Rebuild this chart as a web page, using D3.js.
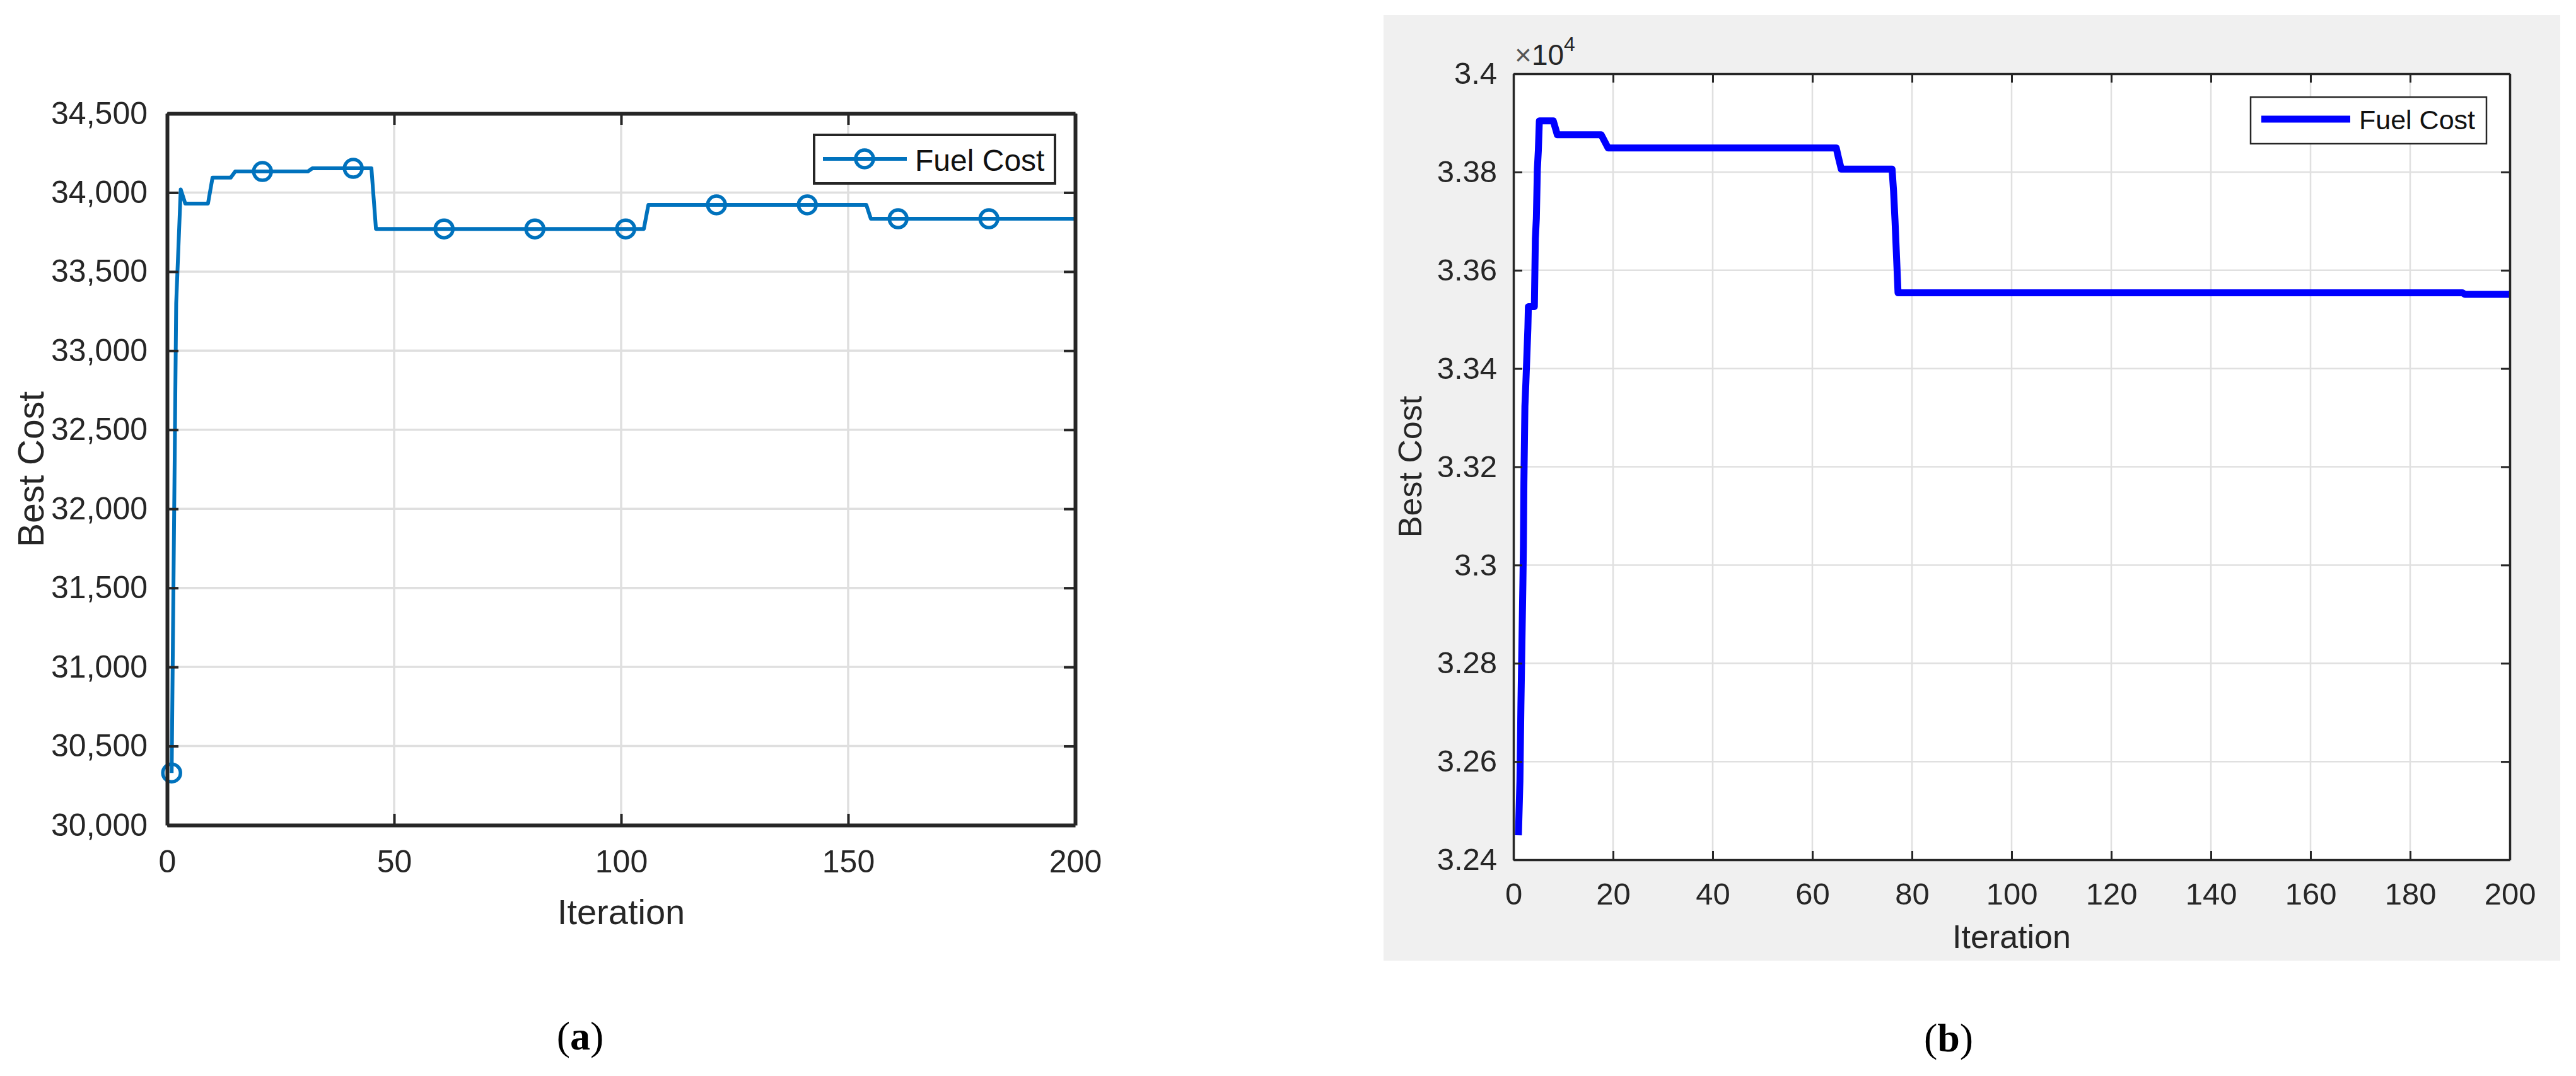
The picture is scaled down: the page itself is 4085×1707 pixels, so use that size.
<!DOCTYPE html>
<html>
<head>
<meta charset="utf-8">
<script src="https://cdn.jsdelivr.net/npm/d3@7"></script>
<style>
  html, body { margin: 0; padding: 0; background: #ffffff; }
  svg { display: block; }
  text { font-family: "Liberation Sans", Arial, Helvetica, sans-serif; }
</style>
</head>
<body>
<svg id="fig" width="4085" height="1707"></svg>
<script>
// ---------------- DATA ----------------
// (a) convergence curve: breakpoints (iteration, best cost)
const iterA = [1, 2, 3, 4, 9, 10, 14, 15, 31, 32, 45, 46, 105, 106, 154, 155, 200];
const costA = [30330, 33300, 34020, 33930, 33930, 34094, 34094, 34133, 34133, 34153, 34153, 33770, 33770, 33922, 33922, 33834, 33834];
// marker iterations for (a)
const markIterA = [1, 21, 41, 61, 81, 101, 121, 141, 161, 181];
// axis ticks (a)
const xTicksA = [0, 50, 100, 150, 200];
const yTicksA = [30000, 30500, 31000, 31500, 32000, 32500, 33000, 33500, 34000, 34500];

// (b) convergence curve: breakpoints (iteration, best cost)
const iterB = [1, 1.3, 1.5, 1.9, 2.0, 2.1, 2.3, 2.5, 2.9, 3.0, 4.2, 4.4, 4.6, 4.8, 5.0, 5.2, 8.0, 8.8, 17.6, 19, 64.8, 65.2, 65.8, 76, 76.3, 76.6, 77.2, 190.5, 191, 200];
const costB = [32450, 32560, 32714, 32965, 33038, 33168, 33323, 33372, 33483, 33526, 33526, 33664, 33706, 33806, 33844, 33904, 33904, 33876, 33876, 33849, 33849, 33831, 33806, 33806, 33762, 33700, 33554, 33554, 33551, 33551];
// axis ticks (b)
const xTicksB = [0, 20, 40, 60, 80, 100, 120, 140, 160, 180, 200];
const yTicksB = [32400, 32600, 32800, 33000, 33200, 33400, 33600, 33800, 34000];

const seriesName = "Fuel Cost";
const xLabel = "Iteration";
const yLabel = "Best Cost";

// ---------------- DRAW ----------------
const svg = d3.select("#fig");
const FONT = '"Liberation Sans", Arial, Helvetica, sans-serif';

function interp(iters, vals, it) {
  for (let i = 0; i < iters.length - 1; i++) {
    if (it >= iters[i] && it <= iters[i + 1]) {
      const t = (it - iters[i]) / (iters[i + 1] - iters[i]);
      return vals[i] + t * (vals[i + 1] - vals[i]);
    }
  }
  return vals[vals.length - 1];
}

// ===== Panel (a) =====
{
  const x = d3.scaleLinear().domain([0, 200]).range([265, 1705]);
  const y = d3.scaleLinear().domain([30000, 34500]).range([1309, 180]);
  const g = svg.append("g");
  const axisColor = "#262626";
  const gridColor = "#dfdfdf";

  // grid
  g.append("g").selectAll("line").data(yTicksA).join("line")
    .attr("x1", x(0)).attr("x2", x(200))
    .attr("y1", d => y(d)).attr("y2", d => y(d))
    .attr("stroke", gridColor).attr("stroke-width", 3.5);
  g.append("g").selectAll("line").data(xTicksA).join("line")
    .attr("y1", y(30000)).attr("y2", y(34500))
    .attr("x1", d => x(d)).attr("x2", d => x(d))
    .attr("stroke", gridColor).attr("stroke-width", 3.5);

  // line
  const pts = iterA.map((d, i) => [d, costA[i]]);
  g.append("path").datum(pts)
    .attr("fill", "none").attr("stroke", "#0072BD").attr("stroke-width", 6)
    .attr("stroke-linejoin", "round")
    .attr("d", d3.line().x(d => x(d[0])).y(d => y(d[1])));

  // markers
  g.append("g").selectAll("circle").data(markIterA).join("circle")
    .attr("cx", d => x(d)).attr("cy", d => y(interp(iterA, costA, d)))
    .attr("r", 14).attr("fill", "none").attr("stroke", "#0072BD").attr("stroke-width", 5.5);

  // axes
  const tk = 18;
  const ax = g.append("g").attr("transform", `translate(0,${y(30000)})`)
    .call(d3.axisBottom(x).tickValues(xTicksA).tickSizeInner(-tk).tickSizeOuter(0).tickPadding(39));
  const ay = g.append("g").attr("transform", `translate(${x(0)},0)`)
    .call(d3.axisLeft(y).tickValues(yTicksA).tickFormat(d3.format(",")).tickSizeInner(-tk).tickSizeOuter(0).tickPadding(31));
  const at = g.append("g").attr("transform", `translate(0,${y(34500)})`)
    .call(d3.axisTop(x).tickValues(xTicksA).tickFormat("").tickSizeInner(-tk).tickSizeOuter(0));
  const ar = g.append("g").attr("transform", `translate(${x(200)},0)`)
    .call(d3.axisRight(y).tickValues(yTicksA).tickFormat("").tickSizeInner(-tk).tickSizeOuter(0));
  [ax, ay, at, ar].forEach(a => {
    a.select(".domain").attr("stroke", axisColor).attr("stroke-width", 6);
    a.selectAll(".tick line").attr("stroke", axisColor).attr("stroke-width", 4);
    a.selectAll(".tick text").attr("fill", "#262626").style("font-size", "50px").style("font-family", FONT);
  });

  // axis labels
  g.append("text").attr("x", (x(0) + x(200)) / 2).attr("y", 1466)
    .attr("text-anchor", "middle").attr("fill", "#262626")
    .style("font-size", "56px").text(xLabel);
  g.append("text").attr("transform", `translate(69,${(y(30000) + y(34500)) / 2}) rotate(-90)`)
    .attr("text-anchor", "middle").attr("fill", "#262626")
    .style("font-size", "57px").text(yLabel);

  // legend
  const lg = g.append("g");
  lg.append("rect").attr("x", 1291).attr("y", 214).attr("width", 382).attr("height", 77)
    .attr("fill", "#ffffff").attr("stroke", "#262626").attr("stroke-width", 4);
  lg.append("line").attr("x1", 1305).attr("x2", 1438).attr("y1", 252).attr("y2", 252)
    .attr("stroke", "#0072BD").attr("stroke-width", 6);
  lg.append("circle").attr("cx", 1371).attr("cy", 252).attr("r", 14)
    .attr("fill", "none").attr("stroke", "#0072BD").attr("stroke-width", 5.5);
  lg.append("text").attr("x", 1451).attr("y", 271).attr("fill", "#111")
    .style("font-size", "48px").text(seriesName);

  // caption (a)
  const cap = g.append("text").attr("x", 920).attr("y", 1665).attr("text-anchor", "middle")
    .style("font-family", '"Liberation Serif", "Times New Roman", serif').style("font-size", "64px").attr("fill", "#000");
  cap.append("tspan").text("(");
  cap.append("tspan").attr("font-weight", "bold").text("a");
  cap.append("tspan").text(")");
}

// ===== Panel (b) =====
{
  const x = d3.scaleLinear().domain([0, 200]).range([2400, 3980]);
  const y = d3.scaleLinear().domain([32400, 34000]).range([1364, 117]);
  const g = svg.append("g");
  const axisColor = "#262626";
  const gridColor = "#e0e0e0";

  // figure background
  g.append("rect").attr("x", 2194).attr("y", 24).attr("width", 1866).attr("height", 1500).attr("fill", "#f0f0f0");
  // axes background
  g.append("rect").attr("x", x(0)).attr("y", y(34000)).attr("width", x(200) - x(0)).attr("height", y(32400) - y(34000)).attr("fill", "#ffffff");

  // grid
  g.append("g").selectAll("line").data(yTicksB).join("line")
    .attr("x1", x(0)).attr("x2", x(200))
    .attr("y1", d => y(d)).attr("y2", d => y(d))
    .attr("stroke", gridColor).attr("stroke-width", 2.5);
  g.append("g").selectAll("line").data(xTicksB).join("line")
    .attr("y1", y(32400)).attr("y2", y(34000))
    .attr("x1", d => x(d)).attr("x2", d => x(d))
    .attr("stroke", gridColor).attr("stroke-width", 2.5);

  // line
  const pts = iterB.map((d, i) => [d, costB[i]]);
  g.append("path").datum(pts)
    .attr("fill", "none").attr("stroke", "#0000FF").attr("stroke-width", 11)
    .attr("stroke-linejoin", "round")
    .attr("d", d3.line().x(d => x(d[0])).y(d => y(d[1])));

  // axes
  const tk = 14;
  const fmt = v => String(+(v / 10000).toFixed(2));
  const ax = g.append("g").attr("transform", `translate(0,${y(32400)})`)
    .call(d3.axisBottom(x).tickValues(xTicksB).tickSizeInner(-tk).tickSizeOuter(0).tickPadding(36));
  const ay = g.append("g").attr("transform", `translate(${x(0)},0)`)
    .call(d3.axisLeft(y).tickValues(yTicksB).tickFormat(fmt).tickSizeInner(-tk).tickSizeOuter(0).tickPadding(26));
  const at = g.append("g").attr("transform", `translate(0,${y(34000)})`)
    .call(d3.axisTop(x).tickValues(xTicksB).tickFormat("").tickSizeInner(-tk).tickSizeOuter(0));
  const ar = g.append("g").attr("transform", `translate(${x(200)},0)`)
    .call(d3.axisRight(y).tickValues(yTicksB).tickFormat("").tickSizeInner(-tk).tickSizeOuter(0));
  [ax, ay, at, ar].forEach(a => {
    a.select(".domain").attr("stroke", axisColor).attr("stroke-width", 3.5);
    a.selectAll(".tick line").attr("stroke", axisColor).attr("stroke-width", 3);
    a.selectAll(".tick text").attr("fill", "#262626").style("font-size", "49px").style("font-family", FONT);
  });

  // exponent label
  const ex = g.append("text").attr("x", x(0) + 2).attr("y", 103).attr("fill", "#262626").style("font-size", "46px");
  ex.append("tspan").attr("fill", "#555").text("\u00d7");
  ex.append("tspan").text("10");
  ex.append("tspan").attr("dy", -22).style("font-size", "32px").text("4");

  // axis labels
  g.append("text").attr("x", (x(0) + x(200)) / 2).attr("y", 1504)
    .attr("text-anchor", "middle").attr("fill", "#262626")
    .style("font-size", "52px").text(xLabel);
  g.append("text").attr("transform", `translate(2254,${(y(32400) + y(34000)) / 2}) rotate(-90)`)
    .attr("text-anchor", "middle").attr("fill", "#262626")
    .style("font-size", "52px").text(yLabel);

  // legend
  const lg = g.append("g");
  lg.append("rect").attr("x", 3569).attr("y", 154).attr("width", 374).attr("height", 74)
    .attr("fill", "#ffffff").attr("stroke", "#262626").attr("stroke-width", 2.5);
  lg.append("line").attr("x1", 3586).attr("x2", 3727).attr("y1", 189).attr("y2", 189)
    .attr("stroke", "#0000FF").attr("stroke-width", 11);
  lg.append("text").attr("x", 3741).attr("y", 205).attr("fill", "#111")
    .style("font-size", "43px").text(seriesName);

  // caption (b)
  const cap = g.append("text").attr("x", 3090).attr("y", 1668).attr("text-anchor", "middle")
    .style("font-family", '"Liberation Serif", "Times New Roman", serif').style("font-size", "64px").attr("fill", "#000");
  cap.append("tspan").text("(");
  cap.append("tspan").attr("font-weight", "bold").text("b");
  cap.append("tspan").text(")");
}
</script>
</body>
</html>
